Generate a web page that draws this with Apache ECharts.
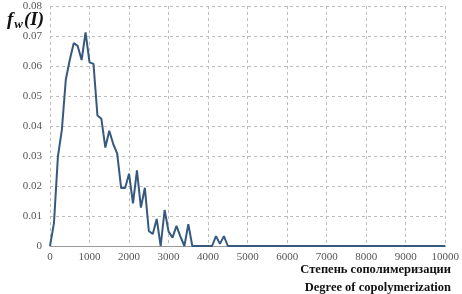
<!DOCTYPE html>
<html><head><meta charset="utf-8">
<script src="https://cdn.jsdelivr.net/npm/echarts@6/dist/echarts.min.js"></script>
<style>html,body{margin:0;padding:0;background:#fff}#c{width:462px;height:294px}</style>
</head><body><div id="c"></div>
<script>
const degree = [0,100,200,300,400,500,600,700,800,900,1000,1100,1200,1300,1400,1500,1600,1700,1800,1900,2000,2100,2200,2300,2400,2500,2600,2700,2800,2900,3000,3100,3200,3300,3400,3500,3600,4100,4200,4300,4400,4500,10000];
const fw = [0,0.0076,0.0298,0.0387,0.0555,0.0620,0.0676,0.0667,0.0620,0.0712,0.0612,0.0607,0.0435,0.0424,0.0328,0.0384,0.0340,0.0308,0.0193,0.0193,0.0241,0.0142,0.0252,0.0128,0.0194,0.0050,0.0040,0.0090,0,0.0120,0.0048,0.0028,0.0067,0.0031,0,0.0073,0,0,0.0033,0.0007,0.0033,0,0];
const yTicks = [0,0.01,0.02,0.03,0.04,0.05,0.06,0.07,0.08];
const xTicks = [0,1000,2000,3000,4000,5000,6000,7000,8000,9000,10000];
const axisTitleRu = 'Степень сополимеризации';
const axisTitleEn = 'Degree of copolymerization';

const chart = echarts.init(document.getElementById('c'));
const serif = '"Liberation Serif", "DejaVu Serif", serif';
chart.setOption({
  animation: false,
  grid: {left: 50, right: 12, top: 6, bottom: 48},
  xAxis: {
    type: 'value', min: xTicks[0], max: xTicks[xTicks.length-1], interval: 1000,
    axisLine: {show: true, lineStyle: {color: '#999', width: 1}},
    axisTick: {show: false},
    axisLabel: {color: '#555', fontFamily: serif, fontSize: 11, margin: 6, formatter: v => String(v)},
    splitLine: {show: true, lineStyle: {color: '#bdbdbd', type: [3,3]}}
  },
  yAxis: {
    type: 'value', min: yTicks[0], max: yTicks[yTicks.length-1], interval: 0.01,
    axisLine: {show: false}, axisTick: {show: false},
    axisLabel: {color: '#555', fontFamily: serif, fontSize: 11, margin: 8,
      formatter: v => v === 0 ? '0' : v.toFixed(2)},
    splitLine: {show: true, lineStyle: {color: '#bdbdbd', type: [3,3]}}
  },
  series: [{
    type: 'line', showSymbol: false, symbol: 'none',
    data: degree.map((d, i) => [d, fw[i]]),
    lineStyle: {color: '#36597f', width: 2},
    z: 3
  }],
  graphic: [
    {type: 'text', left: 7, top: 11, style: {
      rich: {
        f: {fontFamily: serif, fontSize: 19, fontWeight: 'bold', fontStyle: 'italic', fill: '#111'},
        w: {fontFamily: serif, fontSize: 13, fontWeight: 'bold', fontStyle: 'italic', fill: '#111', padding: [8,1,0,1]},
        p: {fontFamily: serif, fontSize: 19, fontWeight: 'bold', fontStyle: 'italic', fill: '#111'}
      },
      text: '{f|f}{w|w}{p|(I)}'
    }},
    {type: 'text', right: 11, top: 263, style: {text: axisTitleRu, fontFamily: serif, fontSize: 12.5, fontWeight: 'bold', fill: '#111', textAlign: 'right'}},
    {type: 'text', right: 11, top: 281, style: {text: axisTitleEn, fontFamily: serif, fontSize: 12.5, fontWeight: 'bold', fill: '#111', textAlign: 'right'}}
  ]
});
</script></body></html>
